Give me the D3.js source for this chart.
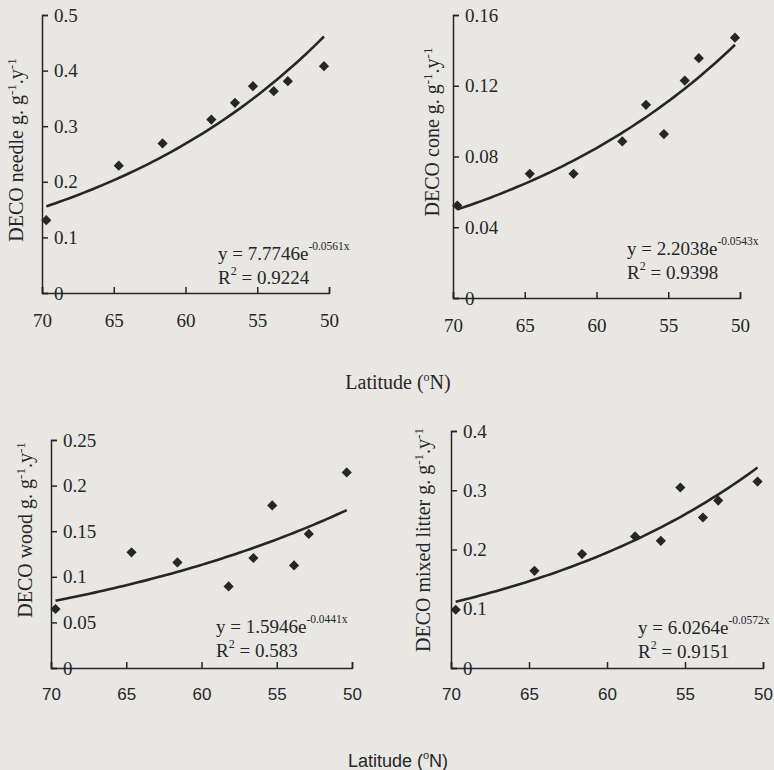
<!DOCTYPE html>
<html>
<head>
<meta charset="utf-8">
<script src="https://cdn.jsdelivr.net/npm/d3@7"></script>
<style>
  html, body { margin: 0; padding: 0; background: #e8e7e3; }
  svg { display: block; }
  .serif { font-family: "Liberation Serif", "Times New Roman", serif; }
  .narrow { font-family: "Liberation Sans Narrow", "Arial Narrow", "Liberation Sans", sans-serif; font-stretch: condensed; }
  .sans { font-family: "Liberation Sans", Arial, sans-serif; }
</style>
</head>
<body>
<svg id="chart" width="774" height="770"></svg>
<script>
// Sampling latitudes (°N) shared by all four litter types
const latitudes = [69.7, 64.65, 61.6, 58.2, 56.55, 55.3, 53.85, 52.87, 50.35];

// Decomposition rates (g·g⁻¹·y⁻¹)
const needleRate = [0.131, 0.229, 0.269, 0.312, 0.342, 0.372, 0.363, 0.381, 0.408];
const coneRate   = [0.0523, 0.0702, 0.0702, 0.0885, 0.1092, 0.0927, 0.1229, 0.1356, 0.1472];
const woodRate   = [0.0647, 0.1268, 0.1158, 0.0895, 0.1206, 0.1783, 0.1125, 0.147, 0.2145];
const mixedRate  = [0.0983, 0.164, 0.1922, 0.222, 0.2147, 0.3046, 0.254, 0.2826, 0.3147];

// Exponential fits y = a·e^(b·x)
const needleFit = { a: 7.7746, b: -0.0561, aText: "7.7746", bText: "-0.0561x", r2: "0.9224" };
const coneFit   = { a: 2.2038, b: -0.0543, aText: "2.2038", bText: "-0.0543x", r2: "0.9398" };
const woodFit   = { a: 1.5946, b: -0.0441, aText: "1.5946", bText: "-0.0441x", r2: "0.583" };
const mixedFit  = { a: 6.0264, b: -0.0572, aText: "6.0264", bText: "-0.0572x", r2: "0.9151" };

// Axis ticks
const latTicks    = [70, 65, 60, 55, 50];
const needleTicks = [0, 0.1, 0.2, 0.3, 0.4, 0.5];
const coneTicks   = [0, 0.04, 0.08, 0.12, 0.16];
const woodTicks   = [0, 0.05, 0.1, 0.15, 0.2, 0.25];
const mixedTicks  = [0, 0.1, 0.2, 0.3, 0.4];

const ink = "#262626";
const svg = d3.select("#chart");

const panels = [
  { name: "needle", values: needleRate, fit: needleFit, ticks: needleTicks,
    x0: 42, x1: 329, yTop: 15, yZero: 293, xFont: "serif",
    title: "needle", titleX: 16, titleY: 150, eqX: 218, eqY: 260 },
  { name: "cone", values: coneRate, fit: coneFit, ticks: coneTicks,
    x0: 453, x1: 740, yTop: 15, yZero: 298, xFont: "serif",
    title: "cone", titleX: 432, titleY: 132, eqX: 627, eqY: 255 },
  { name: "wood", values: woodRate, fit: woodFit, ticks: woodTicks,
    x0: 51, x1: 352, yTop: 440, yZero: 668, xFont: "narrow",
    title: "wood", titleX: 25, titleY: 530, eqX: 216, eqY: 633 },
  { name: "mixed", values: mixedRate, fit: mixedFit, ticks: mixedTicks,
    x0: 451, x1: 763, yTop: 431, yZero: 668, xFont: "narrow",
    title: "mixed litter", titleX: 423, titleY: 540, eqX: 638, eqY: 634 }
];

panels.forEach(p => {
  const x = d3.scaleLinear().domain([70, 50]).range([p.x0, p.x1]);
  const yMax = p.ticks[p.ticks.length - 1];
  const y = d3.scaleLinear().domain([0, yMax]).range([p.yZero, p.yTop]);
  const g = svg.append("g");

  // y axis: ticks and labels on the inner side
  const yAxis = d3.axisRight(y)
    .tickValues(p.ticks)
    .tickFormat(d => d === 0 ? "0" : d3.format("")(+d.toPrecision(3)))
    .tickSizeInner(6).tickSizeOuter(6).tickPadding(6);
  const ya = g.append("g").attr("transform", `translate(${p.x0},0)`).call(yAxis);
  ya.attr("font-family", null).attr("font-size", null);
  ya.selectAll("text").attr("class", "serif").attr("font-size", 19).attr("fill", ink);
  ya.selectAll("path, line").attr("stroke", ink).attr("stroke-width", 1.5);

  // x axis: ticks pointing up, labels below
  const xAxis = d3.axisBottom(x)
    .tickValues(latTicks)
    .tickSizeInner(-6).tickSizeOuter(-6).tickPadding(p.xFont === "serif" ? 21 : 20);
  const xa = g.append("g").attr("transform", `translate(0,${p.yZero})`).call(xAxis);
  xa.attr("font-family", null).attr("font-size", null);
  xa.selectAll("text").attr("class", p.xFont).attr("font-size", p.xFont === "serif" ? 19 : 17).attr("fill", ink);
  xa.selectAll("path, line").attr("stroke", ink).attr("stroke-width", 1.5);

  // fitted exponential trend across the sampled latitude range
  const lo = d3.max(latitudes), hi = d3.min(latitudes);
  const curve = d3.range(0, 61).map(i => {
    const lat = lo + (hi - lo) * i / 60;
    return [lat, p.fit.a * Math.exp(p.fit.b * lat)];
  });
  g.append("path")
    .datum(curve)
    .attr("fill", "none")
    .attr("stroke", ink)
    .attr("stroke-width", 2.6)
    .attr("d", d3.line().x(d => x(d[0])).y(d => y(d[1])).curve(d3.curveMonotoneX));

  // diamond markers
  g.selectAll("path.pt")
    .data(latitudes.map((lat, i) => [lat, p.values[i]]))
    .join("path")
    .attr("class", "pt")
    .attr("fill", ink)
    .attr("d", d3.symbol(d3.symbolSquare, 52)())
    .attr("transform", d => `translate(${x(d[0])},${y(d[1])}) rotate(45)`);

  // y title
  const t = g.append("text").attr("class", "serif").attr("font-size", 20).attr("fill", ink)
    .attr("text-anchor", "middle")
    .attr("transform", `translate(${p.titleX},${p.titleY}) rotate(-90)`)
    .attr("dy", "0.35em");
  t.append("tspan").text(`DECO ${p.title} g. g`);
  t.append("tspan").attr("font-size", 13).attr("dy", "-0.55em").text("-1");
  t.append("tspan").attr("dy", "0.36em").text(".y");
  t.append("tspan").attr("font-size", 13).attr("dy", "-0.55em").text("-1");

  // equation and R²
  const eq = g.append("text").attr("class", "serif").attr("font-size", 19).attr("fill", ink)
    .attr("x", p.eqX).attr("y", p.eqY);
  eq.append("tspan").text(`y = ${p.fit.aText}e`);
  eq.append("tspan").attr("font-size", 11.5).attr("dy", -10).text(p.fit.bText);
  const r2 = g.append("text").attr("class", "serif").attr("font-size", 19).attr("fill", ink)
    .attr("x", p.eqX).attr("y", p.eqY + 24);
  r2.append("tspan").text("R");
  r2.append("tspan").attr("font-size", 12).attr("dy", -9).text("2");
  r2.append("tspan").attr("dy", 9).text(` = ${p.fit.r2}`);
});

// shared x-axis titles
const t1 = svg.append("text").attr("class", "serif").attr("font-size", 20).attr("fill", ink)
  .attr("x", 398).attr("y", 389).attr("text-anchor", "middle");
t1.append("tspan").text("Latitude (");
t1.append("tspan").attr("font-size", 12).attr("dy", -8).text("o");
t1.append("tspan").attr("dy", 8).text("N)");

const t2 = svg.append("text").attr("class", "sans").attr("font-size", 18).attr("fill", ink)
  .attr("x", 398).attr("y", 767).attr("text-anchor", "middle");
t2.append("tspan").text("Latitude (");
t2.append("tspan").attr("font-size", 11).attr("dy", -8).text("o");
t2.append("tspan").attr("dy", 8).text("N)");
</script>
</body>
</html>
